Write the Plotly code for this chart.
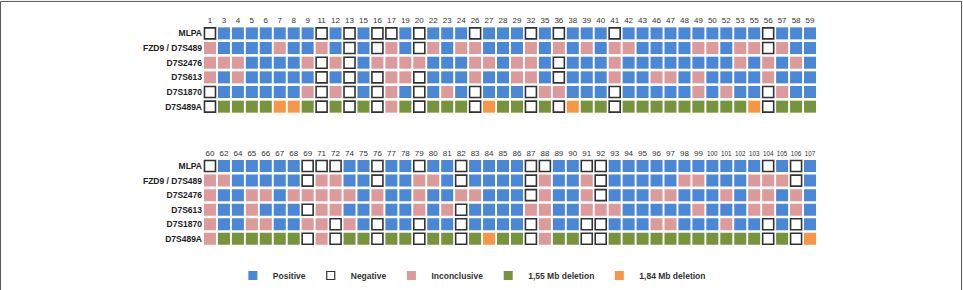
import plotly.graph_objects as go

# ---------------- data ----------------
row_labels = ["MLPA", "FZD9 / D7S489", "D7S2476", "D7S613", "D7S1870", "D7S489A"]

top_columns = ["1", "3", "4", "5", "6", "7", "8", "9", "11", "12", "13", "15", "16", "17", "19", "20",
               "22", "23", "24", "26", "27", "28", "29", "32", "35", "36", "38", "39", "40", "41", "42",
               "43", "46", "47", "48", "49", "50", "52", "53", "55", "56", "57", "58", "59"]
bottom_columns = ["60", "62", "64", "65", "66", "67", "68", "69", "71", "72", "74", "75", "76", "77", "78",
                  "79", "80", "81", "82", "83", "84", "85", "86", "87", "88", "89", "90", "91", "92", "93",
                  "94", "95", "96", "97", "98", "99", "100", "101", "102", "103", "104", "105", "106", "107"]

# P = Positive, N = Negative, I = Inconclusive, G = 1,55 Mb deletion, O = 1,84 Mb deletion
top_mlpa    = "NPPPPPPP NPNP NNPN PPPN PPPN PNPP PNPP PPPP PPPP NPPP"
top_fzd9    = "IPPPPIPP IPNP NIPN IPII PPPI PIPI PIIP PPPI IPII NIPP"
top_d7s2476 = "IIIPPPPI NINP IIII PPPI IPII PNPP PIPP PPPP PPIP IPIP"
top_d7s613  = "IPIPPPPP NPNP NIIN PPPI PPII PNPP PIPP IIPI PPPP IPPP"
top_d7s1870 = "NPPPPPPI NINP NIPN PIPN PPPN IIPP PNPP PPPI PIPP NIPP"
top_d7s489a = "NGGGGOOG NGNG NIGN GGGN OGGN GNOG GNGG GGGG GGGO NGGG"

bottom_mlpa    = "NPPP PPPN NNPP NPPN PPNP PPPN NPPN NPPP PPPP PPPP NPNP"
bottom_fzd9    = "IIPP PPPN IIPP NPPI IPNP PPPN IPPI NPPP PPII PPPI IINP"
bottom_d7s2476 = "IPPI IPII IIIP IPPI PPII PPPN IPPI NPPP IIPP PIPI IPIP"
bottom_d7s613  = "IPPI PPPN IIPP IPPI PINP PPPI IPPI IIPP PPPI PPPI IPIP"
bottom_d7s1870 = "IPPI IPPI INIP NPPN PPNP PPPN IPPN NPPP IIPP PIPP NPNP"
bottom_d7s489a = "IGGG GGGN INGG NGGN GGNG OGGN IGGN NGGG GGGG GGGG NGNO"

status_codes = ["P", "N", "I", "G", "O"]
status_names = ["Positive", "Negative", "Inconclusive", "1,55 Mb deletion", "1,84 Mb deletion"]
status_colors = ["#4a87d6", "#ffffff", "#dd9a9b", "#77933c", "#f79646"]

top_rows = [top_mlpa, top_fzd9, top_d7s2476, top_d7s613, top_d7s1870, top_d7s489a]
bottom_rows = [bottom_mlpa, bottom_fzd9, bottom_d7s2476, bottom_d7s613, bottom_d7s1870, bottom_d7s489a]

# ---------------- figure ----------------
fig = go.Figure()

def add_grid(rows, xa, ya):
    grid = [list(r.replace(" ", "")) for r in rows]
    for code, name, color in zip(status_codes, status_names, status_colors):
        xs, ys = [], []
        for ri, row in enumerate(grid):
            for ci, c in enumerate(row):
                if c == code:
                    xs.append(ci)
                    ys.append(ri)
        neg = code == "N"
        fig.add_trace(go.Scatter(
            x=xs, y=ys, mode="markers", xaxis=xa, yaxis=ya,
            name=name, legendgroup=name, showlegend=False, hoverinfo="skip",
            marker=dict(symbol="square", size=11 if neg else 12, color=color,
                        line=dict(color="#333333", width=1.6 if neg else 0)),
        ))

add_grid(top_rows, "x", "y")
add_grid(bottom_rows, "x2", "y2")

for code, name, color in zip(status_codes, status_names, status_colors):
    neg = code == "N"
    fig.add_trace(go.Scatter(
        x=[None], y=[None], mode="markers", name=name, legendgroup=name, showlegend=True,
        marker=dict(symbol="square", size=8 if neg else 9, color=color,
                    line=dict(color="#333333", width=1.2 if neg else 0)),
    ))

xdom = [0.2108, 0.8484]
tick_font = dict(family="Liberation Sans, Arial, sans-serif", size=8, color="#333333")
row_font = dict(family="Liberation Sans, Arial, sans-serif", size=8.5, color="#222222", weight="bold")

def fmt_label(s):
    # three-digit labels are set in a smaller size so they fit the cell width
    return f"<span style='font-size:6.3px'>{s}</span>" if len(s) > 2 else s

def xaxis_cfg(labels):
    return dict(domain=xdom, range=[-0.5, len(labels) - 0.5], side="top",
                tickmode="array", tickvals=list(range(len(labels))),
                ticktext=[fmt_label(s) for s in labels],
                tickangle=0,
                showgrid=False, zeroline=False, showline=False, ticks="", tickfont=tick_font,
                fixedrange=True)

def yaxis_cfg(dom, anchor):
    return dict(domain=dom, range=[5.5, -0.5], anchor=anchor,
                tickmode="array", tickvals=list(range(len(row_labels))), ticktext=row_labels,
                showgrid=False, zeroline=False, showline=False, ticks="", tickfont=row_font,
                fixedrange=True)

fig.update_layout(
    width=963, height=290,
    margin=dict(l=0, r=0, t=0, b=0),
    paper_bgcolor="white", plot_bgcolor="white",
    xaxis=dict(**xaxis_cfg(top_columns), anchor="y"),
    yaxis=yaxis_cfg([0.600, 0.9086], "x"),
    xaxis2=dict(**xaxis_cfg(bottom_columns), anchor="y2"),
    yaxis2=yaxis_cfg([0.1366, 0.4428], "x2"),
    showlegend=True,
    legend=dict(orientation="h", x=0.49, xanchor="center", y=0.032, yanchor="middle",
                font=dict(family="Liberation Sans, Arial, sans-serif", size=8.5, color="#333333",
                          weight="bold"),
                itemwidth=30, bgcolor="rgba(0,0,0,0)", tracegroupgap=0),
    shapes=[dict(type="rect", xref="paper", yref="paper",
                 x0=0.0006, x1=0.9985, y0=-0.05, y1=0.995,
                 line=dict(color="#555555", width=1), fillcolor="rgba(0,0,0,0)")],
)

fig.write_html("out.html")
